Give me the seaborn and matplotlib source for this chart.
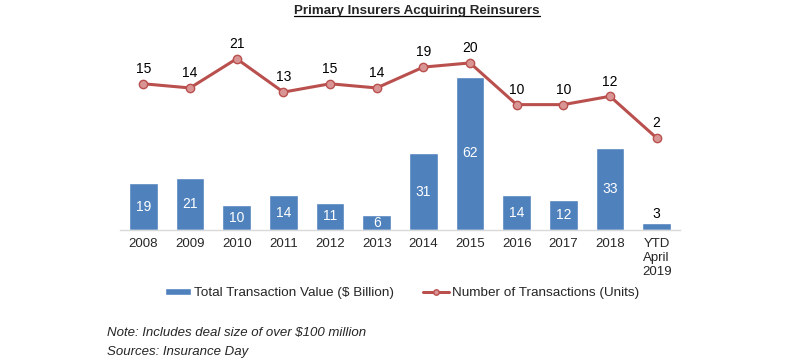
import numpy as np
import pandas as pd
import seaborn as sns
import matplotlib.pyplot as plt

# data
years = ['2008', '2009', '2010', '2011', '2012', '2013', '2014', '2015',
         '2016', '2017', '2018', 'YTD\nApril\n2019']
value_bn = [19, 21, 10, 14, 11, 6, 31, 62, 14, 12, 33, 3]
n_deals = [15, 14, 21, 13, 15, 14, 19, 20, 10, 10, 12, 2]

df = pd.DataFrame({'year': years, 'value': value_bn, 'deals': n_deals,
                   'pos': np.arange(len(years))})

sns.set_style('white')
plt.rcParams['font.family'] = ['Liberation Sans', 'DejaVu Sans']

bar_col = '#4F81BD'
line_col = '#B9504E'

fig = plt.figure(figsize=(8.05, 3.64), dpi=100)
ax = fig.add_axes([120/805, 1 - 230/364, 560/805, 190/364])

sns.barplot(data=df, x='year', y='value', color=bar_col, width=0.62,
            saturation=1, ax=ax, label='Total Transaction Value ($ Billion)')
ax.set_xlim(-0.5, len(years) - 0.5)
ax.set_ylim(0, 76.9)

# bar labels: white inside, black above for the tiny one
for i, v in enumerate(value_bn):
    if v < 5:
        ax.text(i, v + 0.6, str(v), ha='center', va='bottom', fontsize=10, color='black')
    else:
        ax.text(i, v / 2, str(v), ha='center', va='center', fontsize=10, color='white')

ax2 = ax.twinx()
sns.lineplot(data=df, x='pos', y='deals', color=line_col, lw=2.2, marker='o',
             markersize=6, markerfacecolor='#D99594', markeredgecolor=line_col,
             markeredgewidth=1, ax=ax2, label='Number of Transactions (Units)')
ax2.set_ylim(-20.07, 25.5)
for i, v in enumerate(n_deals):
    ax2.annotate(str(v), (i, v), xytext=(0, 5.5), textcoords='offset points',
                 ha='center', va='bottom', fontsize=10, color='black')

for a in (ax, ax2):
    a.set_xlabel('')
    a.set_ylabel('')
    a.set_yticks([])
    for s in ['top', 'left', 'right', 'bottom']:
        a.spines[s].set_visible(False)
ax.spines['bottom'].set_visible(True)
ax.spines['bottom'].set_color('#D9D9D9')
ax.spines['bottom'].set_linewidth(1)
ax.tick_params(axis='x', length=0, labelsize=9.5, pad=6)
for t in ax.get_xticklabels():
    t.set_linespacing(1.2)

# combined legend
h1, l1 = ax.get_legend_handles_labels()
h2, l2 = ax2.get_legend_handles_labels()
if ax2.get_legend():
    ax2.get_legend().remove()
if ax.get_legend():
    ax.get_legend().remove()
fig.legend(h1 + h2, l1 + l2, loc='center', bbox_to_anchor=(402/805, 1 - 293/364),
           ncol=2, frameon=False, fontsize=9.7, handlelength=1.95, handleheight=0.4,
           handletextpad=0.2, columnspacing=2.2, markerscale=0.65)

title = fig.text(417/805, 1 - 11/364, 'Primary Insurers Acquiring Reinsurers',
                 ha='center', va='center', fontsize=9.6, fontweight='bold')
# underline the title across its own width
fig.canvas.draw()
bb = title.get_window_extent().transformed(fig.transFigure.inverted())
fig.add_artist(plt.Line2D([bb.x0, bb.x1], [1 - 16/364, 1 - 16/364],
                          color='black', lw=0.9))

fig.text(107/805, 1 - 333/364, 'Note: Includes deal size of over $100 million',
         ha='left', va='center', fontsize=9.5, style='italic')
fig.text(107/805, 1 - 352/364, 'Sources: Insurance Day',
         ha='left', va='center', fontsize=9.5, style='italic')

fig.savefig('out.png', dpi=100)
